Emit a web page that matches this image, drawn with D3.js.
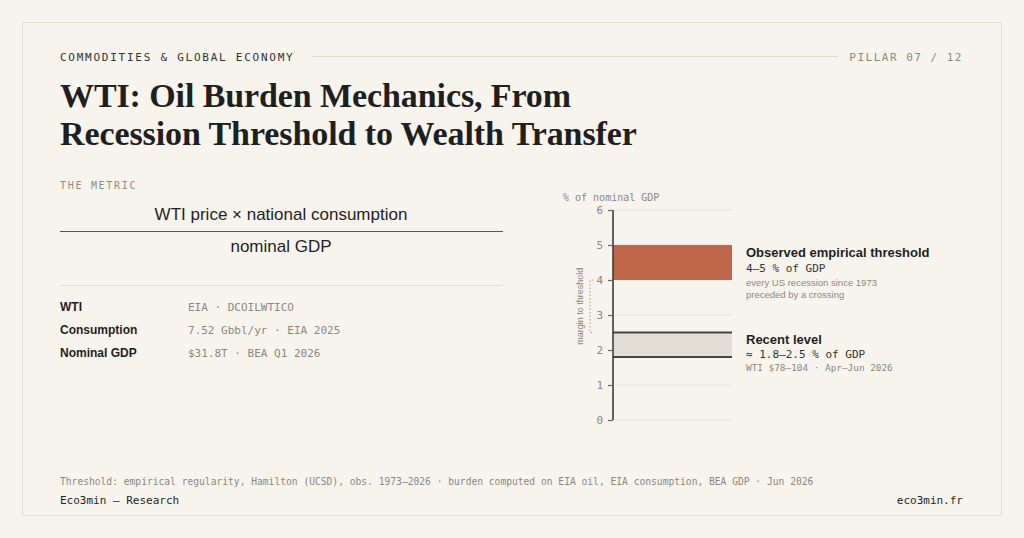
<!DOCTYPE html>
<html>
<head>
<meta charset="utf-8">
<script src="https://cdn.jsdelivr.net/npm/d3@7"></script>
<style>
  html, body { margin: 0; padding: 0; background: #f7f4ee; }
  svg { display: block; }
  .mono { font-family: "DejaVu Sans Mono", monospace; }
  .sans { font-family: "Liberation Sans", Arial, sans-serif; }
  .serif { font-family: "Liberation Serif", serif; }
</style>
</head>
<body>
<div id="chart"></div>
<script>
// chart data
var yTicks = [0, 1, 2, 3, 4, 5, 6];
var thresholdBand = [4, 5];
var recentBand = [1.8, 2.5];
var metricLabels = ["WTI", "Consumption", "Nominal GDP"];
var metricValues = ["EIA · DCOILWTICO", "7.52 Gbbl/yr · EIA 2025", "$31.8T · BEA Q1 2026"];
var titleLines = ["WTI: Oil Burden Mechanics, From", "Recession Threshold to Wealth Transfer"];

var W = 1024, H = 538;
var ink = "#1f1f1f", grey = "#8a8782", rust = "#bf6749";

var svg = d3.select("#chart").append("svg")
    .attr("width", W)
    .attr("height", H);

// card
svg.append("rect")
    .attr("x", 22.5).attr("y", 22.5)
    .attr("width", 979).attr("height", 493)
    .attr("fill", "#f7f4ee")
    .attr("stroke", "#e4ddcd");

// header
svg.append("text").attr("class", "mono")
    .attr("x", 60).attr("y", 61)
    .attr("font-size", 11).attr("letter-spacing", "1.75px")
    .attr("fill", "#333")
    .text("COMMODITIES & GLOBAL ECONOMY");
svg.append("line")
    .attr("x1", 312).attr("x2", 838).attr("y1", 56.5).attr("y2", 56.5)
    .attr("stroke", "#e0dacd");
svg.append("text").attr("class", "mono")
    .attr("x", 963).attr("y", 61)
    .attr("text-anchor", "end")
    .attr("font-size", 11).attr("letter-spacing", "1.5px")
    .attr("fill", grey)
    .text("PILLAR 07 / 12");

// title
svg.selectAll(".title").data(titleLines).enter().append("text")
    .attr("class", "serif title")
    .attr("x", 60)
    .attr("y", function (d, i) { return 107 + i * 38; })
    .attr("font-size", 34).attr("font-weight", "bold")
    .attr("letter-spacing", "-0.1px")
    .attr("fill", ink)
    .text(function (d) { return d; });

// the metric block
svg.append("text").attr("class", "mono")
    .attr("x", 60).attr("y", 189)
    .attr("font-size", 10).attr("letter-spacing", "1.7px")
    .attr("fill", "#8f8c86")
    .text("THE METRIC");
svg.append("text").attr("class", "sans")
    .attr("x", 281).attr("y", 220)
    .attr("text-anchor", "middle").attr("font-size", 17)
    .attr("fill", ink)
    .text("WTI price × national consumption");
svg.append("line")
    .attr("x1", 60).attr("x2", 503).attr("y1", 231.5).attr("y2", 231.5)
    .attr("stroke", "#555").attr("stroke-width", 1.2);
svg.append("text").attr("class", "sans")
    .attr("x", 281).attr("y", 252)
    .attr("text-anchor", "middle").attr("font-size", 17)
    .attr("fill", ink)
    .text("nominal GDP");
svg.append("line")
    .attr("x1", 60).attr("x2", 503).attr("y1", 285.5).attr("y2", 285.5)
    .attr("stroke", "#e2ddd2");

var rows = svg.selectAll(".row").data(metricLabels).enter().append("g")
    .attr("class", "row")
    .attr("transform", function (d, i) { return "translate(60," + (311 + i * 23) + ")"; });
rows.append("text").attr("class", "sans")
    .attr("font-size", 12).attr("font-weight", "bold")
    .attr("fill", ink)
    .text(function (d) { return d; });
rows.append("text").attr("class", "mono")
    .attr("x", 128)
    .attr("font-size", 11)
    .attr("fill", grey)
    .text(function (d, i) { return metricValues[i]; });

// chart
var x0 = 613, x1 = 732;
var y = d3.scaleLinear().domain([0, 6]).range([420, 210]);

svg.append("text").attr("class", "mono")
    .attr("x", 563).attr("y", 201)
    .attr("font-size", 10)
    .attr("fill", grey)
    .text("% of nominal GDP");

// gridlines
svg.selectAll(".grid").data(yTicks).enter().append("line")
    .attr("class", "grid")
    .attr("x1", x0).attr("x2", x1)
    .attr("y1", function (d) { return y(d); })
    .attr("y2", function (d) { return y(d); })
    .attr("stroke", "#e9e4d8");

// threshold band
svg.append("rect")
    .attr("x", x0).attr("width", x1 - x0)
    .attr("y", y(thresholdBand[1]))
    .attr("height", y(thresholdBand[0]) - y(thresholdBand[1]))
    .attr("fill", rust);

// recent band
svg.append("rect")
    .attr("x", x0).attr("width", x1 - x0)
    .attr("y", y(recentBand[1]))
    .attr("height", y(recentBand[0]) - y(recentBand[1]))
    .attr("fill", "#d8d4cc").attr("fill-opacity", 0.7);
svg.selectAll(".edge").data(recentBand).enter().append("line")
    .attr("class", "edge")
    .attr("x1", x0).attr("x2", x1)
    .attr("y1", function (d) { return y(d); })
    .attr("y2", function (d) { return y(d); })
    .attr("stroke", "#444").attr("stroke-width", 1.8);

// axis
var yAxis = d3.axisLeft(y).tickValues(yTicks).tickFormat(d3.format("d"))
    .tickSize(5).tickPadding(5);
var axisG = svg.append("g")
    .attr("transform", "translate(" + x0 + ",0)")
    .call(yAxis);
axisG.select(".domain").attr("stroke", "#333").attr("stroke-width", 1.5)
    .attr("d", "M0," + y(6) + "V" + y(0));
axisG.selectAll(".tick line").attr("stroke", "#666").attr("stroke-width", 1.2);
axisG.selectAll(".tick text")
    .attr("class", "mono")
    .attr("font-size", 11)
    .attr("fill", grey);

// margin bracket
var bx = 590;
svg.append("path")
    .attr("d", "M" + (bx + 3) + "," + y(thresholdBand[0]) + "H" + bx + "V" + y(recentBand[1]) + "H" + (bx + 3))
    .attr("fill", "none")
    .attr("stroke", "#999").attr("stroke-width", 1)
    .attr("stroke-dasharray", "1.5,2");
svg.append("text").attr("class", "sans")
    .attr("transform", "translate(583," + (y(thresholdBand[0]) + y(recentBand[1])) / 2 + ") rotate(-90)")
    .attr("text-anchor", "middle")
    .attr("font-size", 9)
    .attr("fill", grey)
    .text("margin to threshold");

// annotations
var lx = 746;
svg.append("text").attr("class", "sans")
    .attr("x", lx).attr("y", y(5) + 12)
    .attr("font-size", 13).attr("font-weight", "bold").attr("fill", ink)
    .text("Observed empirical threshold");
svg.append("text").attr("class", "mono")
    .attr("x", lx).attr("y", y(5) + 27)
    .attr("font-size", 11).attr("fill", "#333")
    .text("4–5 % of GDP");
svg.append("text").attr("class", "sans")
    .attr("x", lx).attr("y", y(5) + 41)
    .attr("font-size", 9.5).attr("fill", grey)
    .text("every US recession since 1973");
svg.append("text").attr("class", "sans")
    .attr("x", lx).attr("y", y(5) + 53)
    .attr("font-size", 9.5).attr("fill", grey)
    .text("preceded by a crossing");

svg.append("text").attr("class", "sans")
    .attr("x", lx).attr("y", y(2.5) + 11)
    .attr("font-size", 13).attr("font-weight", "bold").attr("fill", ink)
    .text("Recent level");
svg.append("text").attr("class", "mono")
    .attr("x", lx).attr("y", y(2.5) + 25)
    .attr("font-size", 11).attr("fill", "#333")
    .text("≈ 1.8–2.5 % of GDP");
svg.append("text").attr("class", "mono")
    .attr("x", lx).attr("y", y(2.5) + 38)
    .attr("font-size", 9.4).attr("fill", grey)
    .text("WTI $78–104 · Apr–Jun 2026");

// footer
svg.append("text").attr("class", "mono")
    .attr("x", 60).attr("y", 485)
    .attr("font-size", 9.65).attr("fill", grey)
    .text("Threshold: empirical regularity, Hamilton (UCSD), obs. 1973–2026 · burden computed on EIA oil, EIA consumption, BEA GDP · Jun 2026");
svg.append("text").attr("class", "mono")
    .attr("x", 60).attr("y", 504)
    .attr("font-size", 11).attr("fill", ink)
    .text("Eco3min — Research");
svg.append("text").attr("class", "mono")
    .attr("x", 963).attr("y", 504)
    .attr("text-anchor", "end")
    .attr("font-size", 11).attr("fill", ink)
    .text("eco3min.fr");
</script>
</body>
</html>
